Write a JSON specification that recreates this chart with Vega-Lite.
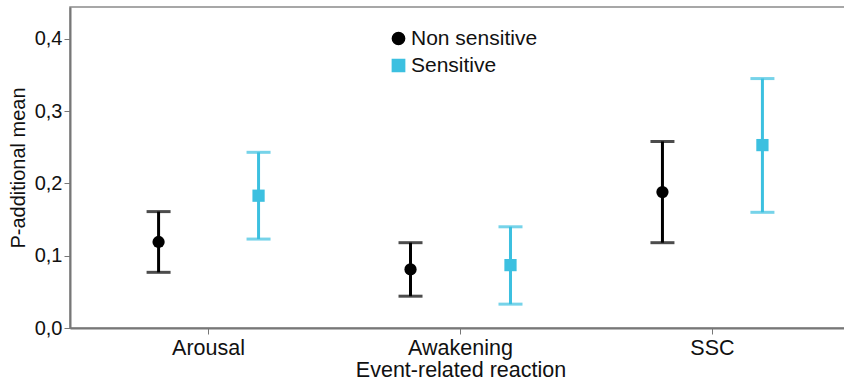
{
  "$schema": "https://vega.github.io/schema/vega-lite/v6.json",
  "width": 781,
  "height": 321,
  "autosize": {"type": "none"},
  "padding": {"left": 70, "top": 7, "right": 0, "bottom": 56},
  "config": {
    "font": "Liberation Sans",
    "view": {"stroke": "#8a8a8a", "strokeWidth": 1.5},
    "axis": {
      "labelFont": "Liberation Sans",
      "titleFont": "Liberation Sans",
      "labelFontSize": 20,
      "titleFontSize": 20,
      "titleFontWeight": "normal",
      "labelColor": "#111",
      "titleColor": "#111",
      "domainColor": "#777",
      "domainWidth": 2,
      "tickColor": "#777",
      "tickWidth": 1,
      "tickSize": 6,
      "grid": false
    },
    "legend": {"labelFont": "Liberation Sans", "labelFontSize": 21, "labelColor": "#111"}
  },
  "data": {
    "values": [
      {"reaction": "Arousal", "group": "Non sensitive", "mean": 0.119, "low": 0.077, "high": 0.161},
      {"reaction": "Arousal", "group": "Sensitive", "mean": 0.183, "low": 0.123, "high": 0.243},
      {"reaction": "Awakening", "group": "Non sensitive", "mean": 0.081, "low": 0.044, "high": 0.118},
      {"reaction": "Awakening", "group": "Sensitive", "mean": 0.087, "low": 0.033, "high": 0.140},
      {"reaction": "SSC", "group": "Non sensitive", "mean": 0.188, "low": 0.118, "high": 0.258},
      {"reaction": "SSC", "group": "Sensitive", "mean": 0.253, "low": 0.160, "high": 0.345}
    ]
  },
  "encoding": {
    "x": {
      "field": "reaction",
      "type": "nominal",
      "sort": ["Arousal", "Awakening", "SSC"],
      "scale": {"type": "band", "paddingInner": 0, "paddingOuter": 0.05},
      "axis": {"title": "Event-related reaction", "labelAngle": 0, "labelPadding": 3, "titlePadding": 1, "labelFontSize": 21.5, "titleFontSize": 21.5}
    },
    "xOffset": {
      "field": "group",
      "type": "nominal",
      "sort": ["Non sensitive", "Sensitive"],
      "scale": {"type": "band", "paddingInner": 0, "paddingOuter": 0.26}
    },
    "color": {
      "field": "group",
      "type": "nominal",
      "scale": {"domain": ["Non sensitive", "Sensitive"], "range": ["#000000", "#3cc0e0"]},
      "legend": {
        "title": null,
        "orient": "none",
        "legendX": 318,
        "legendY": 21,
        "symbolSize": 150,
        "symbolOpacity": 1,
        "labelOffset": 2,
        "rowPadding": 5,
        "padding": 0
      }
    }
  },
  "layer": [
    {
      "mark": {"type": "rule", "strokeWidth": 3},
      "encoding": {
        "y": {
          "field": "low",
          "type": "quantitative",
          "scale": {"domain": [0, 0.444], "nice": false},
          "axis": {
            "title": "P-additional mean",
            "values": [0, 0.1, 0.2, 0.3, 0.4],
            "labelExpr": "replace(format(datum.value, '.1f'), '.', ',')",
            "labelPadding": 2,
            "titlePadding": 6
          }
        },
        "y2": {"field": "high"}
      }
    },
    {
      "mark": {"type": "tick", "thickness": 3, "size": 24},
      "encoding": {
        "y": {"field": "low", "type": "quantitative"}
      }
    },
    {
      "mark": {"type": "tick", "thickness": 3, "size": 24},
      "encoding": {
        "y": {"field": "high", "type": "quantitative"}
      }
    },
    {
      "mark": {"type": "point", "filled": true, "opacity": 1, "size": 150},
      "encoding": {
        "y": {"field": "mean", "type": "quantitative"},
        "shape": {
          "field": "group",
          "type": "nominal",
          "scale": {"domain": ["Non sensitive", "Sensitive"], "range": ["circle", "square"]}
        }
      }
    }
  ]
}
